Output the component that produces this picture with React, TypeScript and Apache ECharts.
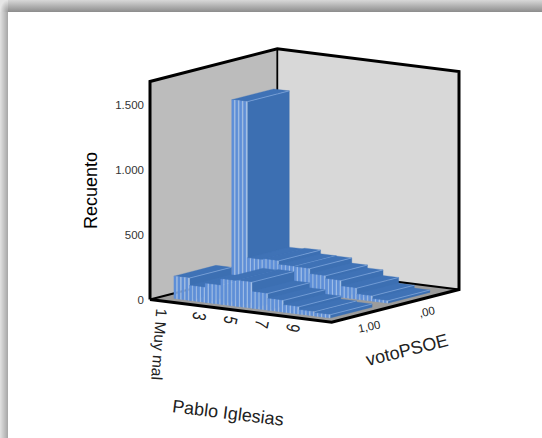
import React, { useEffect, useRef } from "react";
import * as echarts from "echarts";

// Counts per rating of Pablo Iglesias, split by votoPSOE
const categories = ["1 Muy mal", "2", "3", "4", "5", "6", "7", "8", "9", "10"];
const shownCategories = ["1 Muy mal", "3", "5", "7", "9"];
const countsVotoPsoe0 = [1415, 213, 220, 192, 190, 150, 128, 85, 40, 18];
const countsVotoPsoe1 = [172, 115, 146, 195, 200, 128, 90, 56, 33, 25];
const depthLabels = ["1,00", ",00"];
const FONT = '"Liberation Sans", Arial, sans-serif';

// Oblique box: floor vectors in pixels, origin at the left floor corner
const ORIGIN: [number, number] = [150, 299.5];
const WIDE: [number, number] = [181.7, 22.7];
const DEEP: [number, number] = [127.3, -32.7];
const HEIGHT = 218;
const BAR_DEPTH = 0.33;
const ROW_START = [0.082, 0.536];

const slope = WIDE[1] / WIDE[0];
const project = (px: number, py: number, b: number): number[] => [
  px + DEEP[0] * b,
  py + slope * (px - ORIGIN[0]) + DEEP[1] * b,
];
const floorPoint = (a: number, b: number): number[] => [
  ORIGIN[0] + WIDE[0] * a + DEEP[0] * b,
  ORIGIN[1] + WIDE[1] * a + DEEP[1] * b,
];

const barRenderer = (rowStart: number) => (params: any, api: any) => {
  const cat = api.value(0);
  const base = api.coord([cat, 0]);
  const top = api.coord([cat, api.value(1)]);
  const w = api.size([1, 0])[0];
  const x0 = base[0] - w / 2;
  const x1 = base[0] + w / 2;
  const b0 = rowStart;
  const b1 = rowStart + BAR_DEPTH;
  const children: any[] = [];
  const poly = (points: number[][], fill: string) => ({
    type: "polygon",
    shape: { points },
    style: { fill, stroke: fill, lineWidth: 0.3 },
  });
  // right side
  children.push(
    poly(
      [project(x1, base[1], b0), project(x1, base[1], b1), project(x1, top[1], b1), project(x1, top[1], b0)],
      "#3c6fb2"
    )
  );
  // top
  children.push(
    poly(
      [project(x0, top[1], b0), project(x1, top[1], b0), project(x1, top[1], b1), project(x0, top[1], b1)],
      "#3f72b6"
    )
  );
  // pale edge along the far side of the top
  const e0 = project(x1, top[1], b0);
  const e1 = project(x1, top[1], b1);
  children.push({
    type: "line",
    shape: { x1: e0[0], y1: e0[1], x2: e1[0], y2: e1[1] },
    style: { stroke: "#7ca4dc", lineWidth: 0.8 },
  });
  // striped front face
  const stripes = 4;
  const sw = w / stripes;
  for (let s = 0; s < stripes; s++) {
    const sx = x0 + s * sw;
    const sm = sx + sw * 0.68;
    const se = sx + sw;
    children.push(
      poly(
        [project(sx, base[1], b0), project(sm, base[1], b0), project(sm, top[1], b0), project(sx, top[1], b0)],
        "#5e8fd8"
      )
    );
    children.push(
      poly(
        [project(sm, base[1], b0), project(se, base[1], b0), project(se, top[1], b0), project(sm, top[1], b0)],
        "#a4c1e8"
      )
    );
  }
  return { type: "group", children };
};

const labelText = (
  text: string,
  x: number,
  y: number,
  deg: number,
  size: number,
  align: string,
  extra: any = {}
) => ({
  type: "text",
  x,
  y,
  rotation: (deg * Math.PI) / 180,
  ...extra,
  style: { text, x: 0, y: 0, fill: "#222", font: `${size}px ${FONT}`, align, verticalAlign: "middle" },
});

const categoryLabelRenderer = (params: any, api: any) => {
  const cat = api.value(0);
  const p = api.coord([cat, 0]);
  const name = categories[cat];
  const floorY = ORIGIN[1] + slope * (p[0] - 3.5 - ORIGIN[0]);
  if (name.length > 2) {
    return labelText(name, p[0] - 9.5, floorY + 7, -94, 15.5, "left");
  }
  return labelText(name, p[0] - 3.5, floorY + 10.6, -102, 19, "center", { scaleX: 0.75, scaleY: 1 });
};

const option: any = {
  animation: false,
  backgroundColor: "#ffffff",
  grid: {
    left: ORIGIN[0] + 0.074 * WIDE[0],
    width: 0.86 * WIDE[0],
    top: ORIGIN[1] - HEIGHT,
    height: HEIGHT,
  },
  xAxis: {
    type: "category",
    data: categories,
    show: false,
  },
  yAxis: {
    type: "value",
    min: 0,
    max: 1677,
    interval: 500,
    offset: 0.074 * WIDE[0],
    splitLine: { show: false },
    axisLine: { show: false },
    axisTick: { show: false },
    axisLabel: {
      margin: 6,
      color: "#333",
      fontFamily: FONT,
      fontSize: 11.5,
      showMaxLabel: false,
      formatter: (v: number) => (v >= 1000 ? `${Math.floor(v / 1000)}.${String(v % 1000).padStart(3, "0")}` : `${v}`),
    },
    name: "Recuento",
    nameLocation: "middle",
    nameGap: 50,
    nameTextStyle: { color: "#000", fontFamily: FONT, fontSize: 18 },
  },
  graphic: [
    // frame of the page
    {
      type: "rect",
      shape: { x: 0, y: 12, width: 8, height: 426 },
      style: {
        fill: { type: "linear", x: 0, y: 0, x2: 1, y2: 0, colorStops: [{ offset: 0, color: "#e2e2e2" }, { offset: 1, color: "#a6a6a6" }] },
      },
    },
    {
      type: "rect",
      shape: { x: 8, y: 0, width: 534, height: 12 },
      style: {
        fill: { type: "linear", x: 0, y: 0, x2: 0, y2: 1, colorStops: [{ offset: 0, color: "#d8d8d8" }, { offset: 1, color: "#8c8c8c" }] },
      },
    },
    {
      type: "rect",
      shape: { x: 0, y: 0, width: 8, height: 12 },
      style: {
        fill: { type: "radial", x: 1, y: 1, r: 1, colorStops: [{ offset: 0, color: "#9a9a9a" }, { offset: 1, color: "#e6e6e6" }] },
      },
    },
    // walls and floor
    {
      type: "polygon",
      shape: {
        points: [
          floorPoint(0, 0),
          floorPoint(0, 1),
          [floorPoint(0, 1)[0], floorPoint(0, 1)[1] - HEIGHT],
          [floorPoint(0, 0)[0], floorPoint(0, 0)[1] - HEIGHT],
        ],
      },
      style: { fill: "#bcbcbc" },
    },
    {
      type: "polygon",
      shape: {
        points: [
          floorPoint(0, 1),
          floorPoint(1, 1),
          [floorPoint(1, 1)[0], floorPoint(1, 1)[1] - HEIGHT],
          [floorPoint(0, 1)[0], floorPoint(0, 1)[1] - HEIGHT],
        ],
      },
      style: { fill: "#d8d8d8" },
    },
    {
      type: "polygon",
      shape: { points: [floorPoint(0, 0), floorPoint(1, 0), floorPoint(1, 1), floorPoint(0, 1)] },
      style: { fill: "#9c9c9c" },
    },
    {
      type: "polyline",
      shape: {
        points: [
          floorPoint(0, 0),
          [floorPoint(0, 0)[0], floorPoint(0, 0)[1] - HEIGHT],
          [floorPoint(0, 1)[0], floorPoint(0, 1)[1] - HEIGHT],
          [floorPoint(1, 1)[0], floorPoint(1, 1)[1] - HEIGHT],
          floorPoint(1, 1),
          floorPoint(1, 0),
          floorPoint(0, 0),
        ],
      },
      style: { stroke: "#000", lineWidth: 3, fill: "none" },
    },
    {
      type: "line",
      shape: {
        x1: floorPoint(0, 1)[0],
        y1: floorPoint(0, 1)[1] - HEIGHT,
        x2: floorPoint(0, 1)[0],
        y2: floorPoint(0, 1)[1],
      },
      style: { stroke: "#000", lineWidth: 1.8 },
    },
    {
      type: "polyline",
      shape: { points: [floorPoint(0, 0), floorPoint(0, 1), floorPoint(1, 1)] },
      style: { stroke: "#000", lineWidth: 2.2, fill: "none" },
    },
    // depth axis labels and titles
    ...depthLabels.map((t, i) => {
      const b = ROW_START[i] + BAR_DEPTH / 2;
      const p = floorPoint(1, b);
      return labelText(t, p[0] + 6, p[1] + 12.5, 12, 11.5, "center");
    }),
    labelText("votoPSOE", 407, 350, 14, 18, "center"),
    labelText("Pablo Iglesias", 228, 413, -7, 18, "center"),
  ].map((g: any, i: number) => ({ ...g, z: i > 8 ? 5 : 0 })),
  series: [
    {
      type: "custom",
      name: ",00",
      renderItem: barRenderer(ROW_START[1]),
      encode: { x: 0, y: 1 },
      data: countsVotoPsoe0.map((v, i) => [i, v]),
      silent: true,
    },
    {
      type: "custom",
      name: "1,00",
      renderItem: barRenderer(ROW_START[0]),
      encode: { x: 0, y: 1 },
      data: countsVotoPsoe1.map((v, i) => [i, v]),
      silent: true,
    },
    {
      type: "custom",
      name: "ticks",
      renderItem: categoryLabelRenderer,
      encode: { x: 0, y: 1 },
      data: categories.map((c, i) => [i, 0]).filter((d) => shownCategories.includes(categories[d[0]])),
      silent: true,
    },
  ],
};

export default function App() {
  const ref = useRef<HTMLDivElement>(null);
  useEffect(() => {
    const chart = echarts.init(ref.current as HTMLDivElement, undefined, { renderer: "svg" });
    chart.setOption(option);
    return () => chart.dispose();
  }, []);
  return <div ref={ref} style={{ position: "absolute", left: 0, top: 0, width: 542, height: 438 }} />;
}
